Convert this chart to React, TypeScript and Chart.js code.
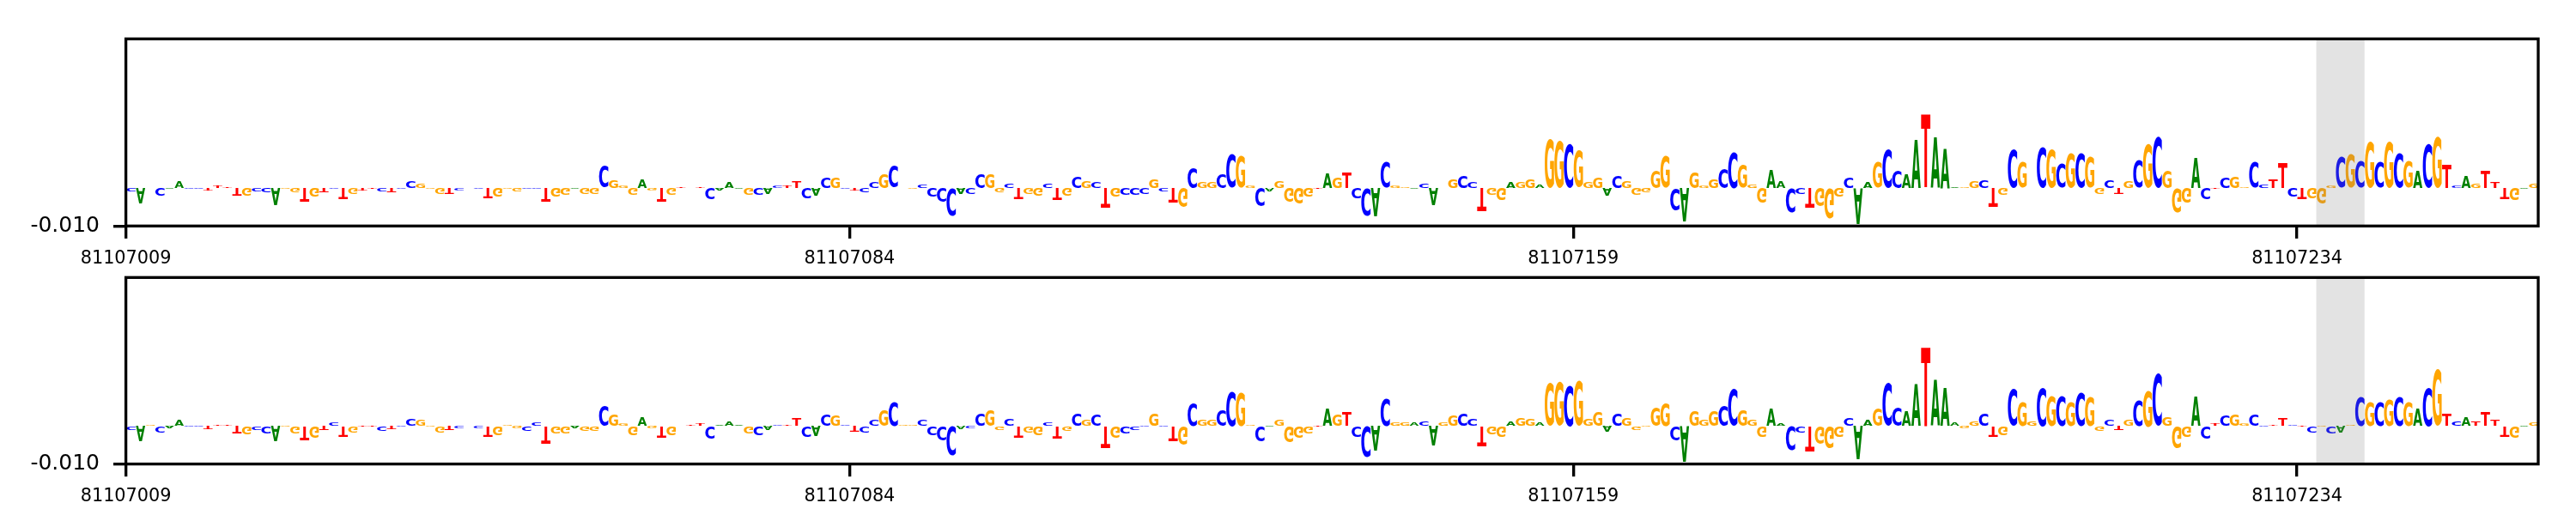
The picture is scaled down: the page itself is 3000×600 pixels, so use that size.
import React, { useEffect, useRef } from "react";
import { Chart, registerables } from "chart.js";

Chart.register(...registerables);

const START_POSITION = 81107009;
const END_POSITION = 81107259;
const TICK_POSITIONS = [81107009, 81107084, 81107159, 81107234];
const Y_TICKS = [-0.01];
const Y_MIN = -0.01;
const Y_MAX = 0.0392;
const BAND = [81107236, 81107241];

const LETTER_COLORS: Record<string, string> = { A: "#008000", C: "#0000ff", G: "#ffa500", T: "#ff0000" };

const topLetters =
  "CAGCAACCTT" + "TTGCCAGGTG" + "TCTGTTCTCC" + "GGGTCCCTGG" + "GCCTGGAGGC" +
  "GGGAGTGTTT" + "CAAAGCACTT" + "CACGCTCCGC" + "GGCCCCACCG" + "GCTGGCTGCG" +
  "CTGCCCGCTG" + "CGGCCGGCAG" + "GGGTAGTCCA" + "CGGACAGGCC" + "TGGAGGAGGC" +
  "GGGACGGGGG" + "CAGGGCCGGG" + "AACCTGGGCA" + "AGCCAATAAA" + "GGCTGCGGCG" +
  "CGCGGCTGCG" + "CGGGACTCGG" + "CCTTCTGGGC" + "GCGCGCGACG" + "TCAGTTTGAG";

const topMilli = [
  -0.9,-4.0,-0.1,-2.1,-0.4,1.7,-0.2,-0.4,-0.6,0.6,
  0.15,-2.0,-2.2,-1.0,-1.3,-4.5,-0.4,-1.1,-3.6,-2.3,
  -1.1,-0.4,-2.9,-1.5,-0.6,-0.2,-0.8,-1.1,-0.3,1.8,
  1.2,-0.3,-1.4,-1.3,-0.7,0,-0.4,-2.7,-2.5,-0.3,
  -0.9,-0.3,-0.3,-3.6,-2.5,-1.7,-0.4,-1.4,-1.4,5.7,
  2.2,0.6,-1.7,2.3,-0.6,-3.6,-1.9,0.2,0,0.4,
  -2.9,-0.5,1.5,-0.4,-1.9,-1.9,-1.4,0.7,0.5,1.7,
  -2.7,-1.9,2.7,2.8,-0.4,-0.6,-1.3,1.5,3.6,5.8,
  -0.1,-0.4,0.9,-2.3,-3.6,-7.2,-1.3,-1.4,3.5,3.8,
  -1.1,1.3,-2.9,-1.6,-2.0,1.1,-3.3,-2.0,3.0,1.7,
  1.4,-5.2,-2.5,-1.9,-1.7,-1.5,2.4,-1.0,-3.9,-5.2,
  5.6,1.5,1.5,3.8,8.9,8.6,0.7,-4.8,-0.8,1.7,
  -3.6,-4.2,-2.5,-0.15,3.8,2.7,4.2,-2.7,-7.3,-7.3,
  6.6,0.5,0.4,-0.3,1.3,-4.5,-0.1,2.3,3.3,1.5,
  -6.1,-1.9,-3.4,1.3,1.4,2.3,0.8,12.7,12.4,11.5,
  9.6,1.5,2.6,-1.9,3.3,1.9,-1.7,-1.1,4.7,8.6,
  -5.9,-8.9,4.3,0.7,2.3,5.2,9.5,6.0,0.9,-4.0,
  4.8,1.8,-6.4,-1.6,-5.2,-4.9,-8.0,-2.3,2.6,-9.5,
  1.3,6.8,10.2,4.5,3.4,12.7,19.3,13.3,10.4,0.3,
  0.3,1.9,2.2,-5.0,-1.9,10,6.7,0.1,10.8,10,
  6.4,9.2,9.2,8.1,-1.4,2.0,-1.5,1.9,7.3,11.5,
  13.4,4.5,-6.3,-4.0,8.0,-2.9,-0.15,2.8,3.0,0.4,
  6.6,0.9,2.4,6.6,-2.4,-2.9,-2.6,-4.2,0.5,8.1,
  8.7,7.1,12.3,6.6,12.3,9.1,7.0,4.3,11.7,13.4,
  6.1,0.7,3.2,1.3,4.3,1.3,-2.9,-3.3,-0.4,1.1,
];

const bottomLetters =
  "CAGCAACCTT" + "TTGCCAGGTG" + "TCTGTTCTCC" + "GGGTCCCTGG" + "GCCTGGAGGC" +
  "GGGAGTGTTT" + "CAAAGCACTT" + "CACGCTCCGC" + "GGCCCCACCG" + "GCTGGCTGCG" +
  "CTGCCCGCTG" + "CGGCCGGCAG" + "GGGTAGTCCA" + "CGGACAGGCC" + "TGGAGGAGGC" +
  "GGGACGGGGG" + "CAGGGCCGGG" + "AACCTGGGCA" + "AGCCAATAAA" + "GGCTGCGGCG" +
  "CGCGGCTGCG" + "CGGGACTCGG" + "CCTTCTCGCA" + "GCGCGCGACG" + "TCATTTTGAG";

const bottomMilli = [
  -1.0,-4.2,0.2,-1.5,-0.6,1.5,-0.4,-0.4,-0.7,0.4,
  0.4,-2.1,-2.1,-1.0,-1.9,-4.2,-0.4,-1.7,-3.4,-2.9,
  -1.1,1.0,-2.5,-1.4,-0.2,-0.2,-1.2,-0.9,-0.4,1.8,
  1.4,-0.3,-1.5,-1.2,-0.5,0,-0.5,-2.6,-2.5,0.3,
  -0.6,-1.1,0.8,-4.5,-1.9,-1.9,-0.5,-1.3,-1.3,5.5,
  2.9,0.5,-2.3,2.3,-0.5,-2.8,-2.3,0,0.4,0.5,
  -3.3,0.2,1.1,0.2,-1.9,-2.3,-1.1,0.4,0.3,2.1,
  -2.7,-2.7,3.0,2.8,0.4,-1.4,-1.4,1.4,4.3,6.4,
  0.3,0.2,1.5,-2.3,-3.8,-7.6,-0.8,-0.6,3.4,4.4,
  -0.9,1.7,-3.0,-1.4,-2.4,1.0,-3.3,-1.1,3.3,1.5,
  2.9,-5.5,-2.9,-1.7,-1.0,-0.2,3.4,-0.3,-3.8,-4.8,
  6.1,1.5,1.5,4.2,9.1,8.9,0.4,-4.0,-0.2,1.5,
  -4.2,-3.0,-1.9,-0.4,4.4,2.9,3.6,-2.8,-8.3,-6.5,
  7.3,0.8,0.8,0.8,1.1,-5.2,0.8,2.7,3.3,1.7,
  -5.2,-2.0,-2.6,1.0,2.0,1.7,0.8,11.4,11.6,10.7,
  11.8,1.8,3.7,-1.4,3.3,2.0,-0.9,-0.3,5.0,6.1,
  -3.5,-9.5,4.0,1.6,3.9,5.4,9.9,4.2,1.6,-2.8,
  4.5,0.6,-6.4,-1.6,-6.6,-4.6,-5.8,-2.8,2.0,-8.8,
  1.4,4.6,11.3,5.0,3.7,11,20.9,12,10.1,0.7,
  -0.5,1.2,3.3,-2.7,-2.4,9.7,6.5,1.2,10.1,8.0,
  7.9,6.5,8.8,7.5,-1.3,1.6,-1.1,1.4,6.7,9.4,
  13.9,2.3,-5.8,-2.6,7.5,-3.3,0.6,2.6,3.0,0.5,
  3.0,-0.3,0.3,2.0,0.3,-0.4,-1.6,-0.3,-1.8,-1.8,
  0.4,7.5,6.5,6.5,7.0,7.5,6.5,4.5,10.0,15.0,
  3.2,1.2,2.2,1.0,3.5,1.5,-2.5,-3.0,-0.4,0.8,
];

const CANVAS_W = 3000;
const TOP_H = 315;
const BOTTOM_TOP = 275;
const BOTTOM_H = 325;
const LEFT = 146.6;
const RIGHT = 2956;
const TICK_LEN = 14.6;
const LINE = 3.33;

const logoPlugin = {
  id: "logo",
  afterDatasetsDraw(chart: any) {
    const { ctx, chartArea, scales } = chart;
    const letters: string = chart.data.datasets[0].letters;
    const meta = chart.getDatasetMeta(0);
    ctx.save();
    ctx.beginPath();
    ctx.rect(chartArea.left, chartArea.top, chartArea.width, chartArea.height);
    ctx.clip();
    ctx.font = 'bold 200px "DejaVu Sans"';
    ctx.textBaseline = "alphabetic";
    ctx.textAlign = "left";
    meta.data.forEach((bar: any, i: number) => {
      const h = bar.base - bar.y;
      if (!h) return;
      const ch = letters[i];
      const m = ctx.measureText(ch);
      const bw = m.actualBoundingBoxRight + m.actualBoundingBoxLeft;
      const bh = m.actualBoundingBoxAscent + m.actualBoundingBoxDescent;
      const w = bar.width * 0.97;
      ctx.save();
      ctx.translate(bar.x - w / 2 + 0.2, bar.base);
      ctx.scale(w / bw, h / bh);
      ctx.fillStyle = LETTER_COLORS[ch];
      ctx.fillText(ch, m.actualBoundingBoxLeft, -m.actualBoundingBoxDescent);
      ctx.restore();
    });
    const x0 = scales.x.getPixelForValue(BAND[0]);
    const x1 = scales.x.getPixelForValue(BAND[1]);
    ctx.fillStyle = "rgba(128,128,128,0.22)";
    ctx.fillRect(x0, chartArea.top, x1 - x0, chartArea.height);
    ctx.restore();
  },
  afterDraw(chart: any) {
    const { ctx, chartArea: a } = chart;
    ctx.save();
    ctx.strokeStyle = "#000000";
    ctx.lineWidth = LINE;
    ctx.lineCap = "square";
    ctx.strokeRect(a.left, a.top, a.width, a.height);
    ctx.restore();
  },
};

function buildChart(canvas: HTMLCanvasElement, letters: string, milli: number[], height: number, top: number, bottom: number) {
  const positions = milli.map((_, i) => START_POSITION + i + 0.5);
  return new Chart(canvas, {
    type: "bar",
    data: {
      labels: positions,
      datasets: [
        {
          letters,
          data: milli.map((v, i) => ({ x: positions[i], y: v / 1000 })),
          backgroundColor: "transparent",
          borderWidth: 0,
          barPercentage: 1,
          categoryPercentage: 1,
        } as any,
      ],
    },
    options: {
      animation: false,
      responsive: false,
      events: [],
      layout: { autoPadding: false, padding: { top, left: 0, right: CANVAS_W - RIGHT, bottom: 0 } },
      plugins: { legend: { display: false }, tooltip: { enabled: false }, title: { display: false } },
      scales: {
        x: {
          type: "linear",
          offset: false,
          min: START_POSITION,
          max: END_POSITION,
          afterBuildTicks(s: any) { s.ticks = TICK_POSITIONS.map((value) => ({ value })); },
          afterFit(s: any) { s.height = height - bottom; },
          border: { display: false },
          grid: { offset: false, drawOnChartArea: false, drawTicks: true, tickLength: TICK_LEN, lineWidth: LINE, color: "#000000" },
          ticks: {
            autoSkip: false, maxRotation: 0, minRotation: 0, padding: 11, color: "#000000",
            font: { family: "DejaVu Sans", size: 20.8 },
            callback: (v: any) => String(v),
          },
        },
        y: {
          type: "linear",
          min: Y_MIN,
          max: Y_MAX,
          afterBuildTicks(s: any) { s.ticks = Y_TICKS.map((value) => ({ value })); },
          afterFit(s: any) { s.width = LEFT; },
          border: { display: false },
          grid: { drawOnChartArea: false, drawTicks: true, tickLength: TICK_LEN, lineWidth: LINE, color: "#000000" },
          ticks: {
            autoSkip: false, padding: 16, color: "#000000",
            font: { family: "DejaVu Sans", size: 25 },
            callback: (v: any) => Number(v).toFixed(3),
          },
        },
      },
    } as any,
    plugins: [logoPlugin],
  });
}

export default function App() {
  const a = useRef<HTMLCanvasElement>(null);
  const b = useRef<HTMLCanvasElement>(null);
  useEffect(() => {
    const c1 = buildChart(a.current!, topLetters, topMilli, TOP_H, 45.3, 263.3);
    const c2 = buildChart(b.current!, bottomLetters, bottomMilli, BOTTOM_H, 48.3, 265.6);
    return () => { c1.destroy(); c2.destroy(); };
  }, []);
  return (
    <div style={{ position: "absolute", left: 0, top: 0, width: CANVAS_W, height: 600, background: "#fff" }}>
      <canvas ref={a} width={CANVAS_W} height={TOP_H} style={{ position: "absolute", left: 0, top: 0, width: CANVAS_W, height: TOP_H }} />
      <canvas ref={b} width={CANVAS_W} height={BOTTOM_H} style={{ position: "absolute", left: 0, top: BOTTOM_TOP, width: CANVAS_W, height: BOTTOM_H }} />
    </div>
  );
}
